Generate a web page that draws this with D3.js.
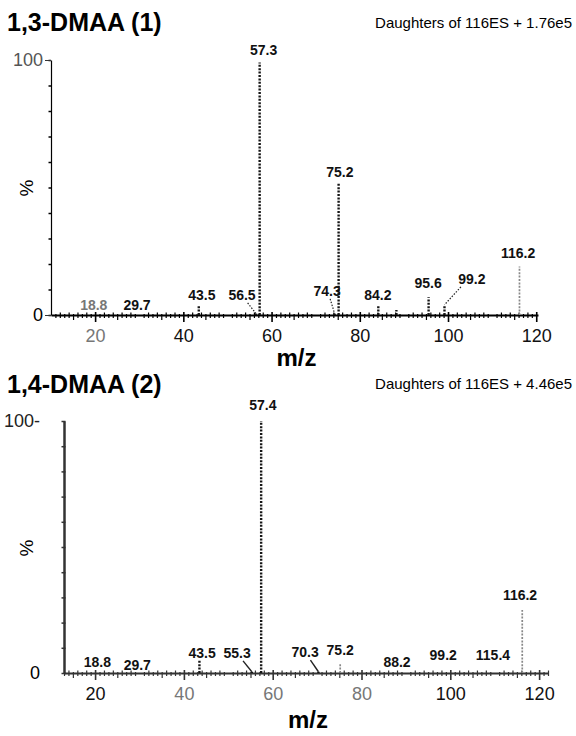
<!DOCTYPE html>
<html>
<head>
<meta charset="utf-8">
<script src="https://cdn.jsdelivr.net/npm/d3@7"></script>
<style>
  body { margin: 0; background: #fff; }
  svg { display: block; font-family: "Liberation Sans", Arial, sans-serif; }
</style>
</head>
<body>
<svg id="chart" width="576" height="736"></svg>
<script>
'use strict';

// Shared axis labels.
var mzTicks = [20, 40, 60, 80, 100, 120];
var pctTicks = [0, 100];

// 1,3-DMAA (1): peak m/z, relative intensity (%), and where each peak label sits.
var mz1 = [18.8, 29.7, 43.5, 56.5, 57.3, 74.3, 75.2, 84.2, 88.3, 95.6, 99.2, 116.2];
var int1 = [0, 0, 3.5, 0.5, 99, 0.5, 52, 3.5, 2, 7, 4, 19];
var labelMz1 = [19.7, 29.5, 44.2, 53.3, 58.2, 72.6, 75.5, 84.1, null, 95.5, 105.4, 115.9];
var labelPct1 = [2.0, 2.0, 5.9, 5.9, 102, 7.5, 54, 5.9, null, 10.6, 12.2, 22.4];

// 1,4-DMAA (2)
var mz2 = [18.8, 29.7, 43.5, 55.3, 57.4, 70.3, 75.2, 88.2, 99.2, 115.4, 116.2];
var int2 = [0, 0, 5, 0.5, 100, 0.5, 4, 0, 0, 0, 25];
var labelMz2 = [20.5, 29.5, 44.1, 52.0, 57.8, 67.3, 75.2, 88.0, 98.4, 109.6, 115.7];
var labelPct2 = [2.4, 1.2, 6.0, 6.0, 104.4, 6.3, 7.1, 2.4, 5.2, 5.2, 29];

/**
  Zip the per-peak arrays into records for d3 data joins.

  @method makePeaks
*/
function makePeaks(mz, intensity, lmz, lpct) {
  return mz.map(function(m, i) {
    return {mz: m, pct: intensity[i], lmz: lmz[i], lpct: lpct[i]};
  });
}

var panels = [
  {
    title: '1,3-DMAA (1)',
    subtitle: 'Daughters of 116ES + 1.76e5',
    peaks: makePeaks(mz1, int1, labelMz1, labelPct1),
    xDomain: [10, 120.4], xRange: [51, 538],
    yRange: [315, 60],
    titleY: 31, subY: 28, mzY: 366, pctY: 188,
    axisColor: '#000', yAxisWidth: 1.2, yTickSize: 6, yTickPad: 2,
    yLabelColor: '#555',
    greyTicks: [20], greyLabels: [18.8], greyPeaks: [116.2],
    leaderDash: '1.5,1.5', leaderWidth: 1.2
  },
  {
    title: '1,4-DMAA (2)',
    subtitle: 'Daughters of 116ES + 4.46e5',
    peaks: makePeaks(mz2, int2, labelMz2, labelPct2),
    xDomain: [13, 122], xRange: [64, 548],
    yRange: [673, 421],
    titleY: 393, subY: 389, mzY: 728, pctY: 548,
    axisColor: '#333', yAxisWidth: 2.5, yTickSize: 0, yTickPad: 24,
    yLabelColor: '#222',
    greyTicks: [40, 60, 80], greyLabels: [], greyPeaks: [116.2, 75.2],
    leaderDash: null, leaderWidth: 1.4
  }
];

var svg = d3.select('#chart');

/**
  Draw one spectrum panel: titles, axes, peak sticks and labels.

  @method drawPanel
*/
function drawPanel(p) {
  var x = d3.scaleLinear().domain(p.xDomain).range(p.xRange),
      y = d3.scaleLinear().domain([0, 100]).range(p.yRange),
      g = svg.append('g'),
      y0 = y(0);

  g.append('text')
    .attr('x', 7).attr('y', p.titleY)
    .attr('font-size', 25).attr('font-weight', 'bold')
    .text(p.title);
  g.append('text')
    .attr('x', 572).attr('y', p.subY)
    .attr('text-anchor', 'end').attr('font-size', 15)
    .text(p.subtitle);

  // Minor ticks on the m/z axis, every unit, crossing the baseline.
  var minor = d3.range(Math.ceil(p.xDomain[0]), Math.floor(p.xDomain[1]) + 1)
    .filter(function(v) { return v % 10 !== 0; });
  g.append('g')
    .attr('transform', 'translate(0,' + y0 + ')')
    .call(d3.axisBottom(x).tickValues(minor).tickFormat('')
      .tickSizeInner(3).tickSizeOuter(0))
    .call(function(a) {
      a.select('.domain').remove();
      a.selectAll('.tick line')
        .attr('stroke', p.axisColor)
        .attr('y1', function(v) { return v % 2 ? -1 : -2.5; })
        .attr('y2', function(v) { return v % 5 === 0 ? 5 : 3; })
        .attr('stroke-width', 1.2);
    });

  // Major ticks with labels.
  g.append('g')
    .attr('transform', 'translate(0,' + y0 + ')')
    .call(d3.axisBottom(x).tickValues(mzTicks).tickSizeInner(7)
      .tickSizeOuter(0).tickPadding(7))
    .call(function(a) {
      a.select('.domain')
        .attr('stroke', p.axisColor).attr('stroke-width', 2);
      a.selectAll('.tick line')
        .attr('stroke', p.axisColor).attr('stroke-width', 1.6)
        .attr('y1', -3);
      a.selectAll('.tick text')
        .attr('font-size', 18)
        .attr('font-family', '"Liberation Sans", Arial, sans-serif')
        .attr('fill', function(v) {
          return p.greyTicks.indexOf(v) >= 0 ? '#777' : '#111';
        });
    });

  // Intensity axis: small ticks every 10 %, labels at 0 and 100.
  g.append('g')
    .attr('transform', 'translate(' + p.xRange[0] + ',0)')
    .call(d3.axisLeft(y).tickValues(d3.range(0, 101, 10)).tickFormat('')
      .tickSizeInner(2.5).tickSizeOuter(0))
    .call(function(a) {
      a.select('.domain')
        .attr('stroke', p.axisColor).attr('stroke-width', p.yAxisWidth);
      a.selectAll('.tick line')
        .attr('stroke', p.axisColor).attr('stroke-width', 1.5)
        .attr('x2', -2.5).attr('x1', p.yAxisWidth > 2 ? 1.5 : 0);
    });
  g.append('g')
    .attr('transform', 'translate(' + p.xRange[0] + ',0)')
    .call(d3.axisLeft(y).tickValues(pctTicks)
      .tickFormat(function(v) {
        return (p.yTickSize === 0 && v === 100) ? v + '-' : v;
      })
      .tickSizeInner(p.yTickSize).tickSizeOuter(0).tickPadding(p.yTickPad))
    .call(function(a) {
      a.select('.domain').remove();
      a.selectAll('.tick line').attr('stroke', '#333').attr('stroke-width', 1);
      a.selectAll('.tick text')
        .attr('font-size', 18)
        .attr('font-family', '"Liberation Sans", Arial, sans-serif')
        .attr('fill', function(v) { return v === 0 ? '#000' : p.yLabelColor; });
    });

  g.append('text')
    .attr('transform', 'translate(33,' + p.pctY + ') rotate(-90)')
    .attr('text-anchor', 'middle').attr('font-size', 19)
    .text('%');
  g.append('text')
    .attr('x', (p.xRange[0] + p.xRange[1]) / 2 + 2).attr('y', p.mzY)
    .attr('text-anchor', 'middle').attr('font-size', 24)
    .attr('font-weight', 'bold')
    .text('m/z');

  // Peak sticks.
  var sticks = p.peaks.filter(function(d) { return d.pct > 0; });
  g.selectAll('.peak').data(sticks).enter().append('line')
    .attr('class', 'peak')
    .attr('x1', function(d) { return x(d.mz); })
    .attr('x2', function(d) { return x(d.mz); })
    .attr('y1', y0)
    .attr('y2', function(d) { return y(d.pct); })
    .attr('stroke', function(d) {
      return p.greyPeaks.indexOf(d.mz) >= 0 ? '#888' : '#151515';
    })
    .attr('stroke-width', function(d) {
      return p.greyPeaks.indexOf(d.mz) >= 0 ? 1.7 : 2.4;
    })
    .attr('stroke-dasharray', '2,1.4');

  // Leader lines from offset labels down to their peak.
  var labelled = p.peaks.filter(function(d) { return d.lmz !== null; });
  var leaders = labelled.filter(function(d) {
    return d.pct > 0 && Math.abs(x(d.mz) - x(d.lmz)) > 6;
  });
  g.selectAll('.leader').data(leaders).enter().append('line')
    .attr('class', 'leader')
    .attr('x1', function(d) {
      var dx = x(d.mz) - x(d.lmz);
      return x(d.lmz) + Math.sign(dx) * Math.min(Math.abs(dx) * 0.4, 12);
    })
    .attr('y1', function(d) { return y(d.lpct) + 3; })
    .attr('x2', function(d) { return x(d.mz); })
    .attr('y2', function(d) { return y(d.pct); })
    .attr('stroke', '#222')
    .attr('stroke-width', p.leaderWidth)
    .attr('stroke-dasharray', p.leaderDash);

  g.selectAll('.plabel').data(labelled).enter().append('text')
    .attr('class', 'plabel')
    .attr('x', function(d) { return x(d.lmz); })
    .attr('y', function(d) { return y(d.lpct); })
    .attr('text-anchor', 'middle')
    .attr('font-size', 14).attr('font-weight', 'bold')
    .attr('fill', function(d) {
      return p.greyLabels.indexOf(d.mz) >= 0 ? '#777' : '#111';
    })
    .text(function(d) { return d.mz.toFixed(1); });
}

panels.forEach(drawPanel);
</script>
</body>
</html>
